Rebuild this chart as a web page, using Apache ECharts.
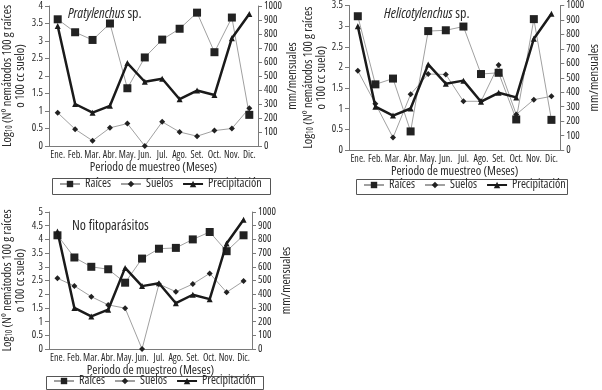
<!DOCTYPE html>
<html><head><meta charset="utf-8">
<script src="https://cdn.jsdelivr.net/npm/echarts@6/dist/echarts.min.js"></script>
<style>html,body{margin:0;padding:0;background:#fff}#c{width:602px;height:390px}</style>
</head><body><div id="c"></div>
<script>
var months = ['Ene.','Feb.','Mar.','Abr.','May.','Jun.','Jul.','Ago.','Set.','Oct.','Nov.','Dic.'];
var precipitacion = [857, 300, 238, 287, 592, 459, 480, 334, 396, 364, 770, 943];
var pratRaices = [3.62, 3.25, 3.03, 3.50, 1.65, 2.53, 3.04, 3.35, 3.81, 2.68, 3.67, 0.89];
var pratSuelos = [0.95, 0.48, 0.15, 0.52, 0.64, 0.00, 0.69, 0.40, 0.28, 0.44, 0.50, 1.08];
var heliRaices = [3.24, 1.59, 1.73, 0.45, 2.88, 2.90, 2.99, 1.84, 1.87, 0.74, 3.17, 0.73];
var heliSuelos = [1.92, 1.12, 0.30, 1.35, 1.84, 1.83, 1.18, 1.18, 2.06, 0.86, 1.22, 1.30];
var noRaices = [4.15, 3.34, 3.00, 2.91, 2.42, 3.30, 3.66, 3.69, 4.00, 4.27, 3.57, 4.15];
var noSuelos = [2.58, 2.30, 1.91, 1.61, 1.49, 0.00, 2.37, 2.09, 2.37, 2.76, 2.07, 2.48];
var titles = ['Pratylenchus', 'Helicotylenchus', 'No fitoparásitos'];
var leftMax = [4, 3.5, 5];
var legendNames = ['Raíces', 'Suelos', 'Precipitación'];
var xTitle = 'Periodo de muestreo (Meses)';
var rightTitle = 'mm/mensuales';

var FF = '"Open Sans"';
var FW = 'condensed';
var TXT = '#2a2a2a';
var AX = '#7a7a7a';

var grids = [
  {left: 48, top: 6, width: 210, height: 140},
  {left: 349, top: 5, width: 215, height: 145},
  {left: 48, top: 212, width: 204, height: 137}
];
var legendPos = [{left: 59, top: 178}, {left: 363, top: 179}, {left: 53, top: 375}];
var legendBox = [{x: 52, y: 178, w: 218, h: 16}, {x: 356, y: 179, w: 211, h: 15}, {x: 46, y: 376, w: 217, h: 13}];
var leftNameGap = [22, 8, 22];

var xAxes = [], yAxes = [], series = [], legends = [], titleArr = [], graphics = [];
var raicesData = [pratRaices, heliRaices, noRaices];
var suelosData = [pratSuelos, heliSuelos, noSuelos];
var titlePos = [{left: 63, top: 2}, {left: 379, top: 2}, {left: 67, top: 214}];

function ts(size) { return {fontFamily: FF, fontWeight: FW, fontStyle: 'normal', fontSize: size, color: TXT}; }

for (var i = 0; i < 3; i++) {
  xAxes.push({
    type: 'category', gridIndex: i, data: months, boundaryGap: true,
    name: xTitle, nameLocation: 'middle', nameGap: 15,
    nameTextStyle: ts(12.5),
    axisLine: {lineStyle: {color: AX}},
    axisTick: {inside: true, length: 4, lineStyle: {color: AX}},
    axisLabel: Object.assign(ts(10), {margin: 4, interval: 0, hideOverlap: false})
  });
  yAxes.push({
    type: 'value', gridIndex: i, min: 0, max: leftMax[i], interval: 0.5, position: 'left',
    name: '{a|Log}{s|10}{a| (Nº nemátodos 100 g raíces}\n{a|o 100 cc suelo)}',
    nameLocation: 'middle', nameRotate: 90, nameGap: leftNameGap[i],
    nameTextStyle: {rich: {
      a: Object.assign(ts(12.5), {lineHeight: 13}),
      s: Object.assign(ts(8), {verticalAlign: 'bottom', padding: [5, 0, 0, 0], lineHeight: 13})
    }},
    splitLine: {show: false},
    axisLine: {show: true, lineStyle: {color: AX}},
    axisTick: {show: true, length: 4, lineStyle: {color: AX}},
    axisLabel: Object.assign(ts(10.5), {margin: 6})
  });
  yAxes.push({
    type: 'value', gridIndex: i, min: 0, max: 1000, interval: 100, position: 'right',
    name: rightTitle, nameLocation: 'middle', nameRotate: 90, nameGap: 27,
    nameTextStyle: ts(12.5),
    splitLine: {show: false},
    axisLine: {show: true, lineStyle: {color: AX}},
    axisTick: {show: true, length: 4, lineStyle: {color: AX}},
    axisLabel: Object.assign(ts(10.5), {margin: 6, formatter: function (v) { return String(v); }})
  });
  series.push({
    name: legendNames[0], type: 'line', xAxisIndex: i, yAxisIndex: i * 2, data: raicesData[i],
    symbol: 'rect', symbolSize: 8, lineStyle: {color: '#a0a0a0', width: 1},
    itemStyle: {color: '#222'}, z: 3
  });
  series.push({
    name: legendNames[1], type: 'line', xAxisIndex: i, yAxisIndex: i * 2, data: suelosData[i],
    symbol: 'diamond', symbolSize: 6, lineStyle: {color: '#a0a0a0', width: 1},
    itemStyle: {color: '#222'}, z: 3
  });
  series.push({
    name: legendNames[2], type: 'line', xAxisIndex: i, yAxisIndex: i * 2 + 1, data: precipitacion,
    symbol: 'triangle', symbolSize: 6, lineStyle: {color: '#1a1a1a', width: 2.5},
    itemStyle: {color: '#1a1a1a'}, z: 4
  });
  legends.push({
    left: legendPos[i].left, top: legendPos[i].top, orient: 'horizontal',
    data: legendNames, selectedMode: false,
    padding: 0, itemGap: 9,
    itemWidth: 20, itemHeight: 8,
    textStyle: ts(12)
  });
  graphics.push({
    type: 'rect', silent: true, z: 0,
    shape: {x: legendBox[i].x + 0.5, y: legendBox[i].y + 0.5, width: legendBox[i].w, height: legendBox[i].h},
    style: {fill: 'none', stroke: '#555', lineWidth: 1}
  });
  titleArr.push({
    left: titlePos[i].left, top: titlePos[i].top,
    text: i < 2 ? '{i|' + titles[i] + '}{n| sp.}' : '{n|' + titles[i] + '}',
    textStyle: {rich: {
      i: {fontFamily: FF, fontStyle: 'italic', fontWeight: FW, fontSize: 14, color: TXT},
      n: {fontFamily: FF, fontStyle: 'normal', fontWeight: FW, fontSize: 14, color: TXT}
    }}
  });
}

var chart = echarts.init(document.getElementById('c'), null, {renderer: 'canvas'});
chart.setOption({
  animation: false,
  title: titleArr,
  grid: grids,
  xAxis: xAxes,
  yAxis: yAxes,
  legend: legends,
  graphic: graphics,
  series: series
});
</script></body></html>
